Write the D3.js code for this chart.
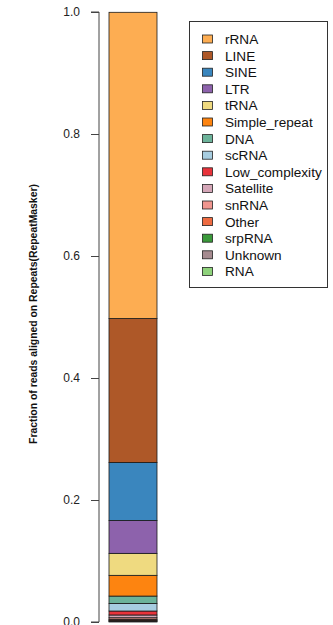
<!DOCTYPE html>
<html>
<head>
<meta charset="utf-8">
<script src="https://cdn.jsdelivr.net/npm/d3@7"></script>
<style>
  body { margin: 0; background: #fff; }
  text { font-family: "Liberation Sans", Arial, sans-serif; }
</style>
</head>
<body>
<div id="chart"></div>
<script>
// repeat classes, bottom of the legend = bottom of the stack order reversed
const categories = ['rRNA', 'LINE', 'SINE', 'LTR', 'tRNA', 'Simple_repeat', 'DNA', 'scRNA',
  'Low_complexity', 'Satellite', 'snRNA', 'Other', 'srpRNA', 'Unknown', 'RNA']
const fractions = [0.502, 0.236, 0.095, 0.054, 0.036, 0.034, 0.012, 0.0125,
  0.0065, 0.0045, 0.0025, 0.0015, 0.001, 0.001, 0.001]
const colors = ['#FDAD52', '#AE5828', '#3A86BE', '#8D62AC', '#EFDA80', '#FD8410', '#6CB39A', '#A7CDE0',
  '#E8333B', '#D4A6B7', '#F0968F', '#EE6B41', '#3A993A', '#A68B90', '#8ED27B']
const yTicks = [0, 0.2, 0.4, 0.6, 0.8, 1.0]

const width = 333
const height = 625

const svg = d3.select('#chart')
  .append('svg')
  .attr('width', width)
  .attr('height', height)

const y = d3.scaleLinear().domain([0, 1]).range([622, 12])
const x = d3.scaleBand().domain(['sample']).range([109, 157])

// stack from the bottom: last category sits at 0
const row = {}
categories.forEach((c, i) => { row[c] = fractions[i] })
const stack = d3.stack().keys(categories.slice().reverse())(([row]))

svg.append('g')
  .selectAll('rect')
  .data(stack)
  .enter()
  .append('rect')
  .attr('x', x('sample'))
  .attr('width', x.bandwidth())
  .attr('y', d => y(d[0][1]))
  .attr('height', d => y(d[0][0]) - y(d[0][1]))
  .style('fill', d => colors[categories.indexOf(d.key)])
  .style('stroke', '#1a1a1a')
  .style('stroke-width', 0.8)

// R-style axis: line spans first to last tick only
const axis = svg.append('g').attr('transform', 'translate(99,0)')
  .call(d3.axisLeft(y).tickValues(yTicks).tickFormat(d3.format('.1f')).tickSize(8).tickPadding(11))
axis.select('.domain').attr('d', `M-8,${y(0)}H0V${y(1)}H-8`).style('stroke', '#444')
axis.selectAll('.tick line').style('stroke', '#444')
axis.selectAll('.tick text').style('font-size', '12px').style('fill', '#222')
  .style('font-family', '"Liberation Sans", Arial, sans-serif')

svg.append('text')
  .attr('transform', 'translate(37, 314) rotate(-90)')
  .attr('text-anchor', 'middle')
  .style('font', 'bold 10.4px "Liberation Sans", Arial, sans-serif')
  .style('fill', '#111')
  .text('Fraction of reads aligned on Repeats(RepeatMasker)')

// legend
const legend = svg.append('g')
legend.append('rect')
  .attr('x', 189.5).attr('y', 21.5)
  .attr('width', 138).attr('height', 266)
  .style('fill', 'none').style('stroke', '#333').style('stroke-width', 1)

const items = legend.selectAll('.item')
  .data(categories)
  .enter()
  .append('g')
  .attr('transform', (_, i) => `translate(0, ${39 + i * 16.6})`)

items.append('rect')
  .attr('x', 202.5).attr('y', -4)
  .attr('width', 10).attr('height', 8)
  .style('fill', (_, i) => colors[i])
  .style('stroke', '#222').style('stroke-width', 0.8)

items.append('text')
  .attr('x', 225).attr('y', 5)
  .style('font-size', '13.6px').style('fill', '#111')
  .text(d => d)
</script>
</body>
</html>
